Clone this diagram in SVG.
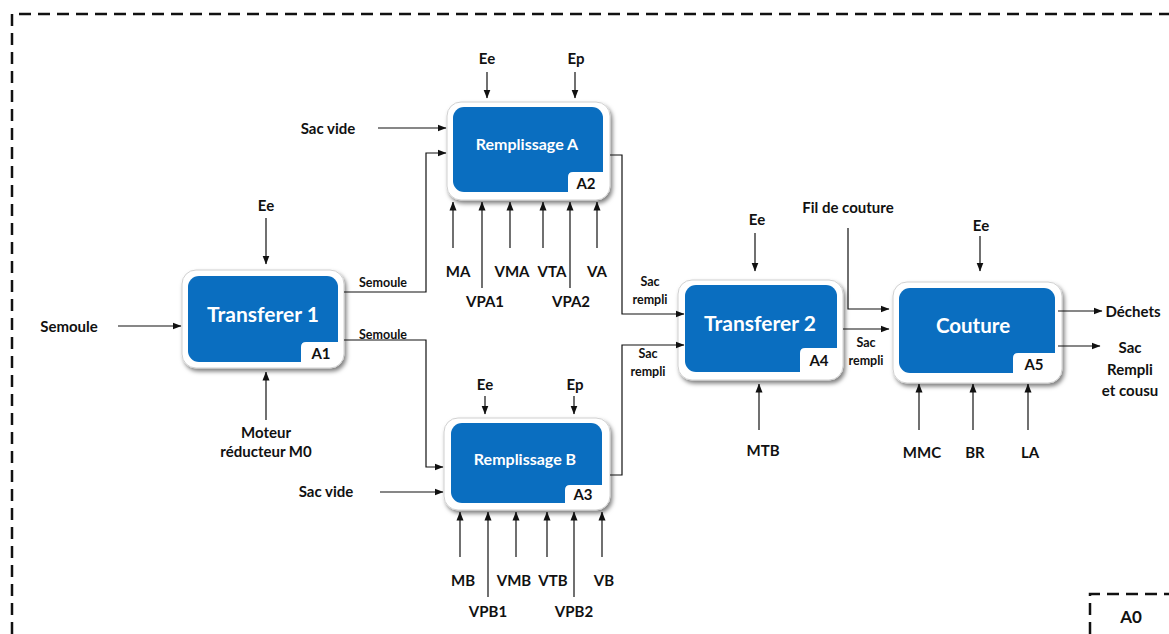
<svg xmlns="http://www.w3.org/2000/svg" width="1169" height="634" viewBox="0 0 1169 634">
  <style>
    .frame { fill: #ffffff; stroke: #d0d0d0; stroke-width: 1; filter: url(#shadow); }
    .body { fill: #0a6ec0; }
    .tab { fill: #ffffff; }
    .title { font-family: Lato, "Open Sans", sans-serif; font-weight: bold; fill: #ffffff; text-anchor: middle; dominant-baseline: central; }
    .code { font-family: Lato, "Open Sans", sans-serif; font-weight: bold; font-size: 15px; fill: #111; text-anchor: middle; dominant-baseline: central; }
    .lbl { font-family: Lato, "Open Sans", sans-serif; font-weight: bold; font-size: 15px; fill: #111; text-anchor: middle; dominant-baseline: central; }
    .sm { font-size: 12.5px; }
    .wire { fill: none; stroke: #111; stroke-width: 1.2; marker-end: url(#arr); }
    .border { fill: none; stroke: #111; stroke-width: 2.5; stroke-dasharray: 12 7; }
  </style>
  <defs>
    <marker id="arr" markerWidth="9" markerHeight="8" refX="8.5" refY="4" orient="auto" markerUnits="userSpaceOnUse">
      <path d="M0,0.5 L9,4 L0,7.5 z" fill="#111"/>
    </marker>
    <filter id="shadow" x="-10%" y="-10%" width="125%" height="130%">
      <feDropShadow dx="2" dy="3" stdDeviation="2" flood-color="#000" flood-opacity="0.5"/>
    </filter>
  </defs>

  <!-- outer boundary of the A0 context -->
  <g id="boundary">
    <path class="border" d="M12,634 L12,14 L1169,14"/>
    <path class="border" d="M1090,634 L1090,594 L1169,594"/>
    <text class="lbl" x="1131" y="616" style="font-size:17px">A0</text>
  </g>

  <!-- activity boxes -->
  <g id="A1">
    <rect class="frame" x="182" y="270" width="162" height="98" rx="14"/>
    <rect class="body" x="188" y="276" width="150" height="86" rx="11"/>
    <path class="tab" d="M301,362 L301,347 Q301,342 306,342 L338,342 L338,362 z"/>
    <text class="title" x="263" y="313" style="font-size:21px">Transferer 1</text>
    <text class="code" x="321" y="353">A1</text>
  </g>

  <g id="A2">
    <rect class="frame" x="447" y="102" width="163" height="98" rx="14"/>
    <rect class="body" x="453" y="107" width="150" height="85" rx="11"/>
    <path class="tab" d="M568,192 L568,177 Q568,172 573,172 L603,172 L603,192 z"/>
    <text class="title" x="527" y="143" style="font-size:16px">Remplissage A</text>
    <text class="code" x="586" y="183">A2</text>
  </g>

  <g id="A3">
    <rect class="frame" x="444" y="418" width="166" height="92" rx="14"/>
    <rect class="body" x="451" y="423" width="151" height="80" rx="11"/>
    <path class="tab" d="M565,503 L565,490 Q565,485 570,485 L602,485 L602,503 z"/>
    <text class="title" x="525" y="458" style="font-size:16px">Remplissage B</text>
    <text class="code" x="583" y="494">A3</text>
  </g>

  <g id="A4">
    <rect class="frame" x="678" y="280" width="165" height="100" rx="14"/>
    <rect class="body" x="685" y="285" width="152" height="87" rx="11"/>
    <path class="tab" d="M800,372 L800,353 Q800,348 805,348 L837,348 L837,372 z"/>
    <text class="title" x="760" y="322" style="font-size:21px">Transferer 2</text>
    <text class="code" x="819" y="360">A4</text>
  </g>

  <g id="A5">
    <rect class="frame" x="893" y="282" width="169" height="101" rx="14"/>
    <rect class="body" x="899" y="288" width="156" height="85" rx="11"/>
    <path class="tab" d="M1013,373 L1013,358 Q1013,353 1018,353 L1055,353 L1055,373 z"/>
    <text class="title" x="973" y="325" style="font-size:20.5px">Couture</text>
    <text class="code" x="1034" y="364">A5</text>
  </g>

  <!-- flows between activities, inputs, controls and mechanisms -->
  <g id="connectors">
    <!-- A1 -->
    <path class="wire" d="M118,326 L181,326"/>
    <path class="wire" d="M266,218 L266,264"/>
    <path class="wire" d="M266,420 L266,372"/>
    <path class="wire" d="M344,292 L426,292 L426,153 L446,153"/>
    <path class="wire" d="M344,340 L426,340 L426,467 L443,467"/>

    <!-- A2 -->
    <path class="wire" d="M378,128 L446,128"/>
    <path class="wire" d="M487,72 L487,98"/>
    <path class="wire" d="M575,72 L575,98"/>
    <path class="wire" d="M453,248 L453,202"/>
    <path class="wire" d="M482,288 L482,202"/>
    <path class="wire" d="M510,248 L510,202"/>
    <path class="wire" d="M543,248 L543,202"/>
    <path class="wire" d="M570,288 L570,202"/>
    <path class="wire" d="M597,248 L597,202"/>
    <path class="wire" d="M610,155 L622,155 L622,314 L684,314"/>

    <!-- A3 -->
    <path class="wire" d="M380,492 L443,492"/>
    <path class="wire" d="M485,396 L485,414"/>
    <path class="wire" d="M574,396 L574,414"/>
    <path class="wire" d="M460,557 L460,512"/>
    <path class="wire" d="M488,597 L488,512"/>
    <path class="wire" d="M516,557 L516,512"/>
    <path class="wire" d="M547,557 L547,512"/>
    <path class="wire" d="M574,597 L574,512"/>
    <path class="wire" d="M602,557 L602,512"/>
    <path class="wire" d="M610,475 L622,475 L622,345 L684,345"/>

    <!-- A4 -->
    <path class="wire" d="M755,233 L755,271"/>
    <path class="wire" d="M759,430 L759,384"/>
    <path class="wire" d="M843,329 L889,329"/>

    <!-- A5 -->
    <path class="wire" d="M848,228 L848,309 L889,309"/>
    <path class="wire" d="M980,236 L980,271"/>
    <path class="wire" d="M919,430 L919,384"/>
    <path class="wire" d="M973,430 L973,384"/>
    <path class="wire" d="M1028,430 L1028,384"/>
    <path class="wire" d="M1058,311 L1102,311"/>
    <path class="wire" d="M1058,346 L1100,346"/>
  </g>

  <!-- flow labels -->
  <g id="labels">
    <text class="lbl" x="69" y="326">Semoule</text>
    <text class="lbl" x="266" y="205">Ee</text>
    <text class="lbl" x="266" y="432">Moteur</text>
    <text class="lbl" x="266" y="451">réducteur M0</text>
    <text class="lbl sm" x="383" y="282">Semoule</text>
    <text class="lbl sm" x="383" y="334">Semoule</text>

    <text class="lbl" x="328" y="128">Sac vide</text>
    <text class="lbl" x="487" y="58">Ee</text>
    <text class="lbl" x="576" y="58">Ep</text>
    <text class="lbl" x="458" y="271">MA</text>
    <text class="lbl" x="485" y="301">VPA1</text>
    <text class="lbl" x="512" y="271">VMA</text>
    <text class="lbl" x="552" y="271">VTA</text>
    <text class="lbl" x="571" y="301">VPA2</text>
    <text class="lbl" x="597" y="271">VA</text>
    <text class="lbl sm" x="650" y="281">Sac</text>
    <text class="lbl sm" x="650" y="299">rempli</text>

    <text class="lbl" x="326" y="491">Sac vide</text>
    <text class="lbl" x="485" y="384">Ee</text>
    <text class="lbl" x="575" y="384">Ep</text>
    <text class="lbl" x="463" y="580">MB</text>
    <text class="lbl" x="488" y="611">VPB1</text>
    <text class="lbl" x="514" y="580">VMB</text>
    <text class="lbl" x="553" y="580">VTB</text>
    <text class="lbl" x="574" y="611">VPB2</text>
    <text class="lbl" x="604" y="580">VB</text>
    <text class="lbl sm" x="648" y="353">Sac</text>
    <text class="lbl sm" x="648" y="371">rempli</text>

    <text class="lbl" x="757" y="219">Ee</text>
    <text class="lbl" x="763" y="450">MTB</text>
    <text class="lbl" x="848" y="207">Fil de couture</text>
    <text class="lbl sm" x="866" y="342">Sac</text>
    <text class="lbl sm" x="866" y="360">rempli</text>

    <text class="lbl" x="981" y="225">Ee</text>
    <text class="lbl" x="1133" y="311">Déchets</text>
    <text class="lbl" x="1130" y="347">Sac</text>
    <text class="lbl" x="1130" y="369">Rempli</text>
    <text class="lbl" x="1130" y="390">et cousu</text>
    <text class="lbl" x="922" y="452">MMC</text>
    <text class="lbl" x="975" y="452">BR</text>
    <text class="lbl" x="1030" y="452">LA</text>
  </g>
</svg>
